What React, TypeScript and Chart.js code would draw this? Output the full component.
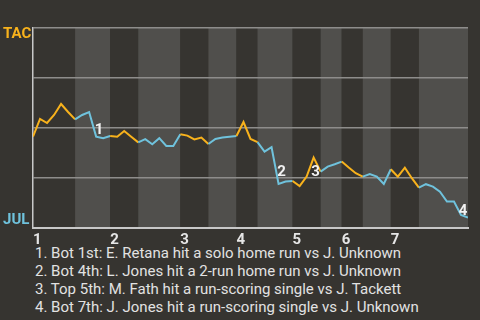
import { useEffect, useRef } from "react";
import { Chart, registerables } from "chart.js";

Chart.register(...registerables);

// Win probability for TAC after each plate appearance (event 0 = game start)
const winProb = [
  0.457, 0.545, 0.525, 0.565, 0.62, 0.58, 0.543,
  0.565, 0.58, 0.457, 0.449, 0.46,
  0.456, 0.485, 0.456, 0.428,
  0.444, 0.419, 0.449, 0.41, 0.41, 0.469,
  0.462, 0.443, 0.452, 0.42,
  0.445, 0.452, 0.456, 0.46,
  0.53, 0.445, 0.429,
  0.382, 0.404, 0.22, 0.232, 0.235,
  0.21, 0.257, 0.352, 0.282,
  0.307, 0.319, 0.332,
  0.302, 0.274, 0.257,
  0.27, 0.257, 0.22, 0.294,
  0.257, 0.302, 0.249, 0.202,
  0.219, 0.207, 0.182, 0.132, 0.132, 0.065, 0.052,
];

// Event index at which each half inning starts (last entry = final event)
const halfInningStarts = [0, 6, 11, 15, 21, 25, 29, 32, 37, 41, 44, 47, 51, 55, 62];
const inningLabels = ["1", "2", "3", "4", "5", "6", "7"];
const teamLabels = ["TAC", "JUL"];
const annotationEvents = [9, 35, 40, 61];
const annotationLabels = ["1", "2", "3", "4"];
const footnotes = [
  "1. Bot 1st: E. Retana hit a solo home run vs J. Unknown",
  "2. Bot 4th: L. Jones hit a 2-run home run vs J. Unknown",
  "3. Top 5th: M. Fath hit a run-scoring single vs J. Tackett",
  "4. Bot 7th: J. Jones hit a run-scoring single vs J. Unknown",
];

const ORANGE = "#f8b21c";
const BLUE = "#6fc2dc";
const BG = "#363430";
const BAND = "#504f4c";
const FONT = "Roboto, 'Noto Sans', sans-serif";

function halfOf(idx: number): number {
  for (let h = 0; h < halfInningStarts.length - 1; h++) {
    if (idx > halfInningStarts[h] && idx <= halfInningStarts[h + 1]) return h;
  }
  return 0;
}

const annotOffsets = [
  [3, -6],
  [3, -12],
  [2, 15],
  [2, -4],
];

export default function App() {
  const ref = useRef<HTMLCanvasElement>(null);

  useEffect(() => {
    document.body.style.margin = "0";
    document.body.style.background = BG;
    const canvas = ref.current;
    if (!canvas) return;

    const bgPlugin = {
      id: "bands",
      beforeDraw(chart: any) {
        const { ctx, chartArea, scales } = chart;
        ctx.save();
        ctx.fillStyle = BG;
        ctx.fillRect(0, 0, chart.width, chart.height);
        for (let h = 0; h < halfInningStarts.length - 1; h++) {
          const x0 = scales.x.getPixelForValue(halfInningStarts[h]);
          const x1 = scales.x.getPixelForValue(halfInningStarts[h + 1]);
          ctx.fillStyle = h % 2 === 1 ? BAND : BG;
          ctx.fillRect(x0, chartArea.top, x1 - x0, chartArea.bottom - chartArea.top);
        }
        ctx.restore();
      },
      afterDraw(chart: any) {
        const { ctx, chartArea, scales } = chart;
        ctx.save();
        ctx.font = `bold 15px ${FONT}`;
        ctx.textBaseline = "middle";
        ctx.textAlign = "left";
        ctx.fillStyle = ORANGE;
        ctx.fillText(teamLabels[0], 3, chartArea.top + 6);
        ctx.fillStyle = BLUE;
        ctx.fillText(teamLabels[1], 3, chartArea.bottom - 8);
        ctx.textAlign = "center";
        ctx.fillStyle = "#f2f2f2";
        annotationEvents.forEach((ev, i) => {
          const px = scales.x.getPixelForValue(ev) + annotOffsets[i][0];
          const py = scales.y.getPixelForValue(winProb[ev]) + annotOffsets[i][1];
          ctx.fillText(annotationLabels[i], px, py);
        });
        ctx.restore();
      },
    };

    const chart = new Chart(canvas, {
      type: "line",
      data: {
        datasets: [
          {
            data: winProb.map((v, i) => ({ x: i, y: v })),
            borderWidth: 2,
            pointRadius: 0,
            fill: false,
            tension: 0,
            borderColor: ORANGE,
            segment: {
              borderColor: (ctx: any) => (halfOf(ctx.p1DataIndex) % 2 === 1 ? BLUE : ORANGE),
            },
          },
        ],
      },
      options: {
        animation: false,
        responsive: false,
        maintainAspectRatio: false,
        layout: { padding: { left: 33, right: 12, top: 28, bottom: 0 } },
        plugins: { legend: { display: false }, tooltip: { enabled: false } },
        scales: {
          x: {
            type: "linear",
            min: 0,
            max: halfInningStarts[halfInningStarts.length - 1],
            afterBuildTicks: (scale: any) => {
              scale.ticks = halfInningStarts
                .filter((_, i) => i % 2 === 0 && i / 2 < inningLabels.length)
                .map((v) => ({ value: v }));
            },
            afterFit: (scale: any) => {
              scale.height = 16;
            },
            ticks: {
              align: "start",
              autoSkip: false,
              maxRotation: 0,
              padding: 3,
              color: "#e6e6e6",
              font: { family: FONT, size: 15, weight: "bold" },
              callback: (_v: any, i: number) => inningLabels[i],
            },
            grid: { display: false, drawTicks: false },
            border: { color: "#c8c8c8", width: 2 },
          },
          y: {
            min: 0,
            max: 1,
            afterFit: (scale: any) => {
              scale.width = 0;
            },
            ticks: { display: false, stepSize: 0.25 },
            grid: { color: "#8e8d8b", lineWidth: 1.5, drawTicks: false },
            border: { color: "#c8c8c8", width: 1.5 },
          },
        },
      },
      plugins: [bgPlugin],
    } as any);

    return () => chart.destroy();
  }, []);

  return (
    <div style={{ position: "relative", width: 480, height: 320, background: BG, overflow: "hidden" }}>
      <canvas ref={ref} width={480} height={244} style={{ display: "block" }} />
      <div
        style={{
          position: "absolute",
          left: 35,
          top: 245,
          fontFamily: FONT,
          fontSize: 15,
          lineHeight: "17.9px",
          color: "#e2e2e2",
          whiteSpace: "nowrap",
        }}
      >
        {footnotes.map((t, i) => (
          <div key={i}>{t}</div>
        ))}
      </div>
    </div>
  );
}
